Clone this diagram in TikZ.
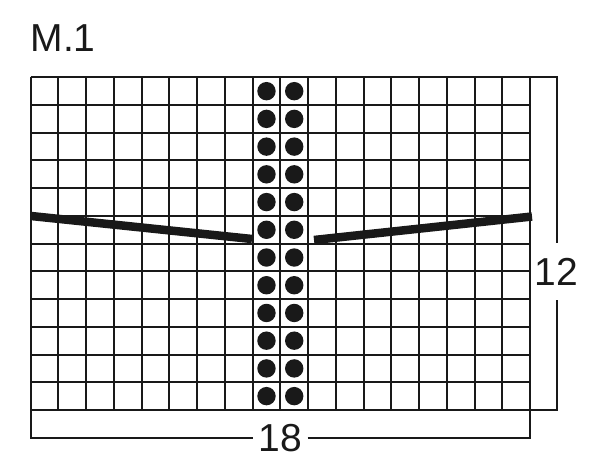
\documentclass[tikz,border=0pt]{standalone}
\usepackage{fontspec}
\setmainfont{Liberation Sans}
\begin{document}
\begin{tikzpicture}[x=1pt,y=-1pt,
  gridline/.style={line width=2pt,black!90},
  frameline/.style={line width=2pt,black!90},
  stitchdot/.style={fill=black!90},
  thickline/.style={line width=8.5pt,black!90,line cap=butt},
  lbl/.style={font=\fontsize{39}{40}\selectfont,text=black!90,inner sep=0pt}]
\useasboundingbox (0,0) rectangle (600,471);
\def\xa{30.7}\def\xb{530}\def\ya{77.3}\def\yb{410}
% grid
\foreach \i in {0,...,18}{
  \pgfmathsetmacro{\xx}{\xa+\i*(\xb-\xa)/18}
  \draw[gridline] (\xx,\ya) -- (\xx,\yb);
}
\foreach \j in {0,...,12}{
  \pgfmathsetmacro{\yy}{\ya+\j*(\yb-\ya)/12}
  \draw[gridline] (\xa,\yy) -- (\xb,\yy);
}
% dots
\foreach \c in {8,9}{
  \foreach \r in {0,...,11}{
    \pgfmathsetmacro{\cx}{\xa+(\c+0.5)*(\xb-\xa)/18}
    \pgfmathsetmacro{\cy}{\ya+(\r+0.5)*(\yb-\ya)/12}
    \fill[stitchdot] (\cx,\cy) circle (9.2);
  }
}
% labels
\node[lbl,anchor=base west] (title) at (30.4,51.7) {M.1};
\node[lbl,minimum width=54pt,minimum height=30pt] (w18) at (280.3,437.7) {18};
\node[lbl,minimum width=44pt,minimum height=56.7pt] (h12) at (556.3,271.7) {12};
% frame coordinates
\coordinate (bl) at (\xa,437.7);
\coordinate (br) at (\xb,437.7);
\coordinate (tr) at (557.3,\ya);
\coordinate (rb) at (557.3,\yb);
% bottom frame
\draw[frameline] (\xa,\yb) -- (bl) -- (w18.west);
\draw[frameline] (w18.east) -- (br) -- (\xb,\yb);
% right frame
\draw[frameline] (\xb,\ya) -- (tr) -- (557.3,243.3);
\draw[frameline] (557.3,300) -- (rb) -- (\xb,\yb);
% thick lines
\coordinate (l1) at (31,216);
\coordinate (l2) at (252,239);
\coordinate (r1) at (314,240);
\coordinate (r2) at (532,216.5);
\draw[thickline] (l1) -- (l2);
\draw[thickline] (r1) -- (r2);
\end{tikzpicture}
\end{document}
